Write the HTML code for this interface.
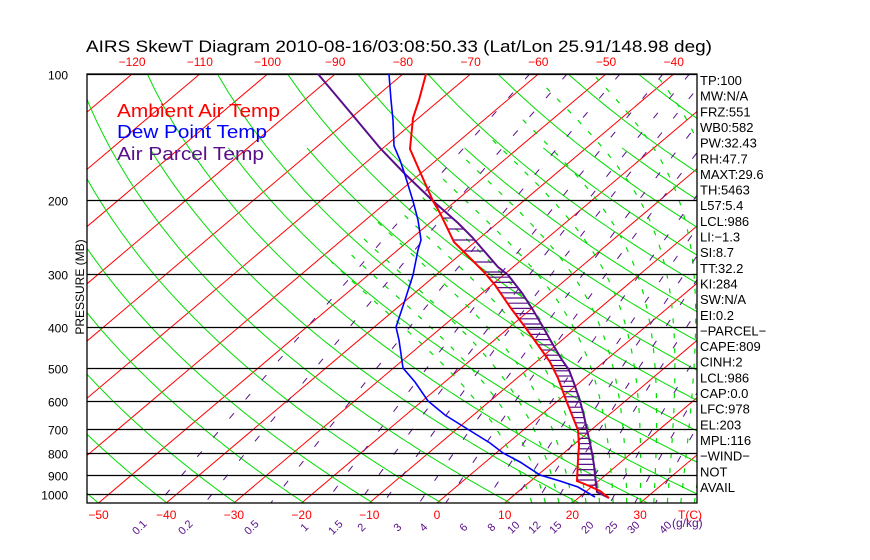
<!DOCTYPE html>
<html><head><meta charset="utf-8"><style>
html,body{margin:0;padding:0;background:#fff;}
svg{display:block;font-family:"Liberation Sans",sans-serif;}
</style></head><body>
<svg id="s" width="870" height="560" xmlns="http://www.w3.org/2000/svg">
<defs><clipPath id="c"><rect x="87" y="74" width="610" height="429"/></clipPath></defs>
<rect width="870" height="560" fill="#fff"/>
<g id="bg" clip-path="url(#c)"></g>
<g id="fg"></g>
<text x="86" y="52" font-size="17" fill="#000" textLength="626" lengthAdjust="spacingAndGlyphs">AIRS SkewT Diagram 2010-08-16/03:08:50.33 (Lat/Lon 25.91/148.98 deg)</text>
<g font-size="18">
<text x="117" y="117" fill="#f00" textLength="163" lengthAdjust="spacingAndGlyphs">Ambient Air Temp</text>
<text x="117" y="138" fill="#00f" textLength="150" lengthAdjust="spacingAndGlyphs">Dew Point Temp</text>
<text x="117" y="160" fill="#5a0f8a" textLength="147" lengthAdjust="spacingAndGlyphs">Air Parcel Temp</text>
</g>
<text transform="translate(84,287) rotate(-90)" font-size="12" text-anchor="middle">PRESSURE (MB)</text>
<g id="lab"></g>
</svg>
<script>
var NS="http://www.w3.org/2000/svg";
function el(p,t,a,txt){var e=document.createElementNS(NS,t);for(var k in a)e.setAttribute(k,a[k]);if(txt!=null)e.textContent=txt;p.appendChild(e);return e;}
var bg=document.getElementById('bg'),fg=document.getElementById('fg'),lab=document.getElementById('lab');
function Y(p){return 74+182.4*Math.log(p/100);}
function X(T,y){return 437+6.77*T+1.183*(503-y);}
function line(g,pts,a){if(pts.length<2)return;var d='';pts.forEach(function(q,i){d+=(i?'L':'M')+q[0].toFixed(1)+' '+q[1].toFixed(1);});a.d=d;a.fill='none';el(g,'path',a);}
for(var T=-160;T<=50;T+=10){line(bg,[[X(T,503),503],[X(T,74),74]],{stroke:'#f00','stroke-width':1});}
for(var th=190;th<=560;th+=10){var pts=[];var ptop=(th%20==0)?100:150;for(var p=ptop;p<=1060;p+=10){var t=th*Math.pow(p/1000,0.2857)-273.15;var y=Y(p);pts.push([X(t,y),y]);}line(bg,pts,{stroke:'#0d0','stroke-width':1});}
function es(t){return 6.112*Math.exp(17.67*t/(t+243.5));}
for(var tw=14;tw<=52;tw+=2){var t=tw,pts=[],p=1050;pts.push([X(t,Y(p)),Y(p)]);
 while(p>100){var T=t+273.15,e=es(t),r=0.622*e/(p-e);var Lv=2.5e6;var num=1+Lv*r/(287*T),den=1+Lv*Lv*r*0.622/(1005*287*T*T);var G=(287*T/(1005*p))*num/den; var dp=-5;t+=G*dp;p+=dp;if(t<-58)break;pts.push([X(t,Y(p)),Y(p)]);}
 line(bg,pts,{stroke:'#0d0','stroke-width':1.2,'stroke-dasharray':'5,10'});}
var ws=[0.1,0.2,0.5,1,1.5,2,3,4,6,8,10,12,15,20,25,30,40];
ws.forEach(function(w){var pts=[];for(var p=100;p<=1060;p+=20){var e=w*p/(622+w),l=Math.log(e/6.112),td=243.5*l/(17.67-l);var y=Y(p);pts.push([X(td,y),y]);}line(bg,pts,{stroke:'#5a0f8a','stroke-width':1,'stroke-dasharray':'7,18'});});
[100,200,300,400,500,600,700,800,900,1000].forEach(function(p){var y=Math.round(Y(p))+0.5;el(fg,'line',{x1:87,x2:697,y1:y,y2:y,stroke:'#000','stroke-width':1.3});
 el(lab,'text',{x:68,y:y+5,'font-size':12,'text-anchor':'end'},String(p));});
el(fg,'rect',{x:87,y:74,width:610,height:429,fill:'none',stroke:'#000','stroke-width':1.3});
var red=[[426,74],[419,100],[413,118],[410,149],[417,165],[433,201],[440,213],[454,242],[470,258],[484,272],[495,285],[510,307],[525,327],[538,345],[550,362],[558,378],[566,400],[572,415],[578,430],[579,445],[578,460],[577,481],[587,485],[600,491],[609,498]];
var blue=[[389,74],[391,100],[393,120],[394,146],[400,160],[405,175],[413,201],[418,220],[421,240],[418,250],[413,275],[405,300],[396,327],[399,340],[403,368],[415,382],[428,401],[445,415],[469,430],[490,443],[503,453],[520,462],[540,475],[560,481],[578,487],[595,497]];
var par=[[318,74],[350,112],[380,148],[405,174],[433,201],[458,223],[472,237],[485,252],[498,267],[508,275],[522,293],[533,310],[543,327],[552,343],[562,360],[569,370],[575,386],[580,401],[584,416],[587,430],[590,443],[592,453],[594,465],[595,475],[597,492],[609,498]];
function interp(arr,y){for(var i=0;i<arr.length-1;i++){if(y>=arr[i][1]&&y<=arr[i+1][1]){var f=(y-arr[i][1])/((arr[i+1][1]-arr[i][1])||1);return arr[i][0]+f*(arr[i+1][0]-arr[i][0]);}}return null;}
var hy=[];for(var y=207;y<270;y+=11)hy.push(y);for(var y=272;y<496;y+=5.2)hy.push(y);
hy.forEach(function(y){var a=interp(red,y),b=interp(par,y);if(a!=null&&b!=null&&b-a>1)el(fg,'line',{x1:a,x2:b,y1:y,y2:y,stroke:'#5a0f8a','stroke-width':1.2});});
line(fg,par,{stroke:'#5a0f8a','stroke-width':2});
line(fg,red,{stroke:'#f00','stroke-width':2});
line(fg,blue,{stroke:'#00f','stroke-width':1.6});
for(var T=-120;T<=-40;T+=10){el(lab,'text',{x:X(T,74),y:66,'font-size':12,fill:'#f00','text-anchor':'middle'},String(T).replace('-','\u2212'));}
for(var T=-50;T<=30;T+=10){el(lab,'text',{x:X(T,503),y:519,'font-size':12,fill:'#f00','text-anchor':'middle'},String(T).replace('-','\u2212'));}
el(lab,'text',{x:678,y:519,'font-size':12,fill:'#f00'},'T(C)');
var wl=[['0.1',142],['0.2',188],['0.5',254],['1',307],['1.5',338],['2',364],['3',400],['4',426],['6',466],['8',494],['10',516],['12',537],['15',558],['20',590],['25',614],['30',636],['40',668]];
wl.forEach(function(q){el(lab,'text',{transform:'translate('+q[1]+',530) rotate(-45)','font-size':11,fill:'#5a0f8a','text-anchor':'middle'},q[0]);});
el(lab,'text',{x:672,y:527,'font-size':12,fill:'#5a0f8a'},'(g/kg)');
var rl=['TP:100','MW:N/A','FRZ:551','WB0:582','PW:32.43','RH:47.7','MAXT:29.6','TH:5463','L57:5.4','LCL:986','LI:\u22121.3','SI:8.7','TT:32.2','KI:284','SW:N/A','EI:0.2','\u2212PARCEL\u2212','CAPE:809','CINH:2','LCL:986','CAP:0.0','LFC:978','EL:203','MPL:116','\u2212WIND\u2212',' NOT',' AVAIL'];
rl.forEach(function(s,i){el(lab,'text',{x:700,y:85+i*15.65,'font-size':13,fill:'#000'},s);});
</script>
</body></html>
